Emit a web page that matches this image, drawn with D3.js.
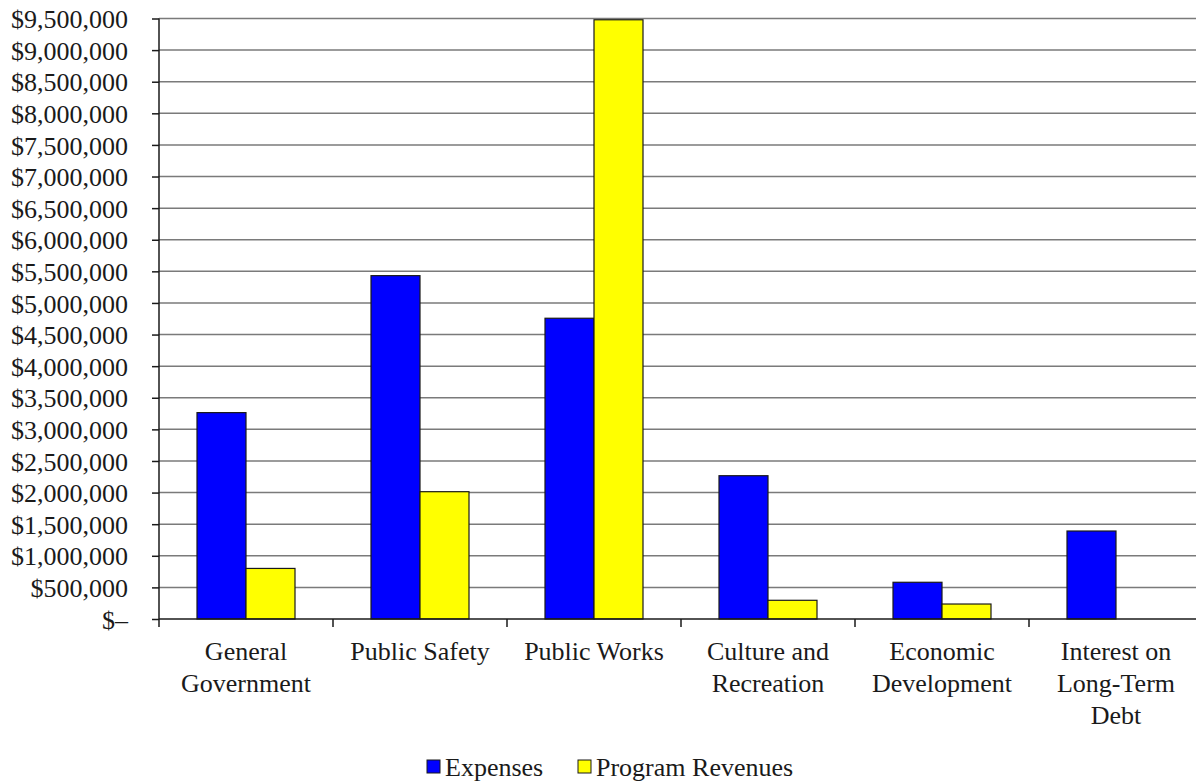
<!DOCTYPE html>
<html lang="en">
<head>
  <meta charset="UTF-8">
  <title>Expenses and Program Revenues</title>
  <script src="https://d3js.org/d3.v7.min.js"></script>
  <style type="text/css">
    body { margin: 0; background: white; }
    text { font-family: "Liberation Serif", "Times New Roman", serif; fill: #1a1a1a; }
  </style>
</head>
<body>
  <div id="chart">
    <svg width="1196" height="781"></svg>
  </div>
  <script type="text/javascript">
    // Data
    const categories = [
      ["General", "Government"],
      ["Public Safety"],
      ["Public Works"],
      ["Culture and", "Recreation"],
      ["Economic", "Development"],
      ["Interest on", "Long-Term", "Debt"]
    ];
    const seriesNames = ["Expenses", "Program Revenues"];
    const expenses = [3265000, 5432000, 4758000, 2267000, 581000, 1392000];
    const revenues = [800000, 2014000, 9480000, 296000, 237000, 0];
    const yTicks = d3.range(0, 9500001, 500000);
    const colors = ["#0000ff", "#ffff00"];

    let svg = d3.select("#chart svg"),
      margin = { top: 18.5, left: 159, bottom: 162 },
      plotRight = 1203,
      height = +svg.attr("height") - margin.top - margin.bottom;

    let g = svg.append("g").attr("transform", "translate(" + margin.left + "," + margin.top + ")");
    let width = plotRight - margin.left;

    let x = d3.scaleBand()
      .domain(d3.range(categories.length))
      .range([0, width])
      .paddingInner(0)
      .paddingOuter(0);
    let inner = d3.scaleBand()
      .domain([0, 1])
      .range([38, x.bandwidth() - 38]);
    let y = d3.scaleLinear()
      .domain([0, 9500000])
      .range([height, 0]);

    // gridlines
    g.append("g")
      .selectAll("line")
      .data(yTicks.filter(t => t > 0))
      .enter()
      .append("line")
      .attr("x1", 0)
      .attr("x2", width)
      .attr("y1", d => y(d))
      .attr("y2", d => y(d))
      .attr("stroke", "#7a7a7a")
      .attr("stroke-width", 1.5);

    // bars
    let data = categories.map((c, i) => [expenses[i], revenues[i]]);
    let groups = g.append("g")
      .selectAll("g")
      .data(data)
      .enter()
      .append("g")
      .attr("transform", (d, i) => "translate(" + x(i) + ",0)");
    groups.selectAll("rect")
      .data(d => d.map((v, k) => ({ v: v, k: k })).filter(e => e.v > 0))
      .enter()
      .append("rect")
      .attr("x", d => inner(d.k))
      .attr("width", inner.bandwidth())
      .attr("y", d => y(d.v))
      .attr("height", d => y(0) - y(d.v))
      .attr("fill", d => colors[d.k])
      .attr("stroke", "#1a1a1a")
      .attr("stroke-width", 1.2);

    // y axis
    let fmt = d => d === 0 ? "$\u2013" : "$" + d3.format(",")(d);
    let yAxis = g.append("g")
      .call(d3.axisLeft(y).tickValues(yTicks).tickFormat(fmt).tickSize(7).tickPadding(24));
    yAxis.select(".domain").attr("stroke", "#1a1a1a").attr("stroke-width", 1.5).attr("d", "M0," + y(0) + "V" + y(9500000));
    yAxis.selectAll(".tick line").attr("stroke", "#1a1a1a").attr("stroke-width", 1.5);
    yAxis.selectAll(".tick text").style("font-size", "26px").attr("dy", "0.35em");

    // x axis
    let xAxisG = g.append("g").attr("transform", "translate(0," + height + ")");
    xAxisG.append("line")
      .attr("x1", 0).attr("x2", width)
      .attr("stroke", "#1a1a1a").attr("stroke-width", 1.5);
    xAxisG.selectAll("line.tick")
      .data(d3.range(categories.length + 1))
      .enter()
      .append("line")
      .attr("class", "tick")
      .attr("x1", i => i * x.bandwidth())
      .attr("x2", i => i * x.bandwidth())
      .attr("y1", 0)
      .attr("y2", 8)
      .attr("stroke", "#1a1a1a")
      .attr("stroke-width", 1.5);
    let labels = xAxisG.selectAll("text.cat")
      .data(categories)
      .enter()
      .append("text")
      .attr("class", "cat")
      .attr("text-anchor", "middle")
      .attr("x", (d, i) => x(i) + x.bandwidth() / 2)
      .attr("y", 41)
      .style("font-size", "26px");
    labels.selectAll("tspan")
      .data(d => d)
      .enter()
      .append("tspan")
      .attr("x", function () { return d3.select(this.parentNode).attr("x"); })
      .attr("dy", (d, i) => i === 0 ? 0 : 32)
      .text(d => d);

    // legend
    let legend = svg.append("g").attr("transform", "translate(427,767)");
    let legendX = [0, 151];
    seriesNames.forEach((name, i) => {
      let item = legend.append("g").attr("transform", "translate(" + legendX[i] + ",0)");
      item.append("rect")
        .attr("x", 0).attr("y", -7)
        .attr("width", 13).attr("height", 13)
        .attr("fill", colors[i])
        .attr("stroke", "#1a1a1a")
        .attr("stroke-width", 1);
      item.append("text")
        .attr("x", 18)
        .attr("y", 0)
        .attr("dy", "0.35em")
        .style("font-size", "26px")
        .text(name);
    });
  </script>
</body>
</html>
